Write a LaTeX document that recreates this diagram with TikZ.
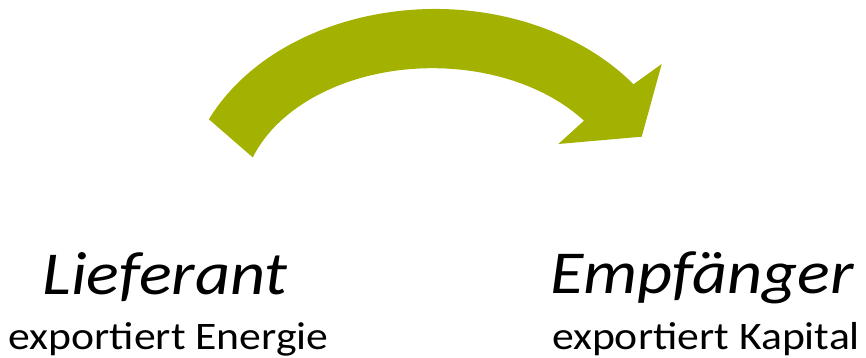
\documentclass[tikz,border=0pt]{standalone}
\usepackage{fontspec}
\setmainfont{Carlito}
\definecolor{arrowgreen}{RGB}{163,177,0}
\newcommand{\widen}[1]{\scalebox{1.12}[1]{#1}}
\begin{document}
\begin{tikzpicture}[x=1pt,y=-1pt,
  title/.style={inner sep=0pt,anchor=base,font=\fontsize{61}{63}\selectfont\itshape},
  sub/.style={inner sep=0pt,anchor=base,font=\fontsize{39}{41}\selectfont}]
\useasboundingbox (0,0) rectangle (866,358);
% curved arrow
\fill[arrowgreen] (208.9,119.3)
  arc[start angle=-155,end angle=-37.3,x radius=249.5,y radius=191]
  -- (661.7,64) -- (641.7,136.7) -- (558.3,144) -- (584,120.7)
  arc[start angle=-37.1,end angle=-161,x radius=190,y radius=132.3]
  -- cycle;
\node[title] (lief) at (165,294) {\widen{Lieferant}};
\node[sub] (lsub) at (168.5,349) {\widen{exportiert Energie}};
\node[title] (empf) at (702,293) {\widen{Empfänger}};
\node[sub] (esub) at (706,349) {\widen{exportiert Kapital}};
\end{tikzpicture}
\end{document}
